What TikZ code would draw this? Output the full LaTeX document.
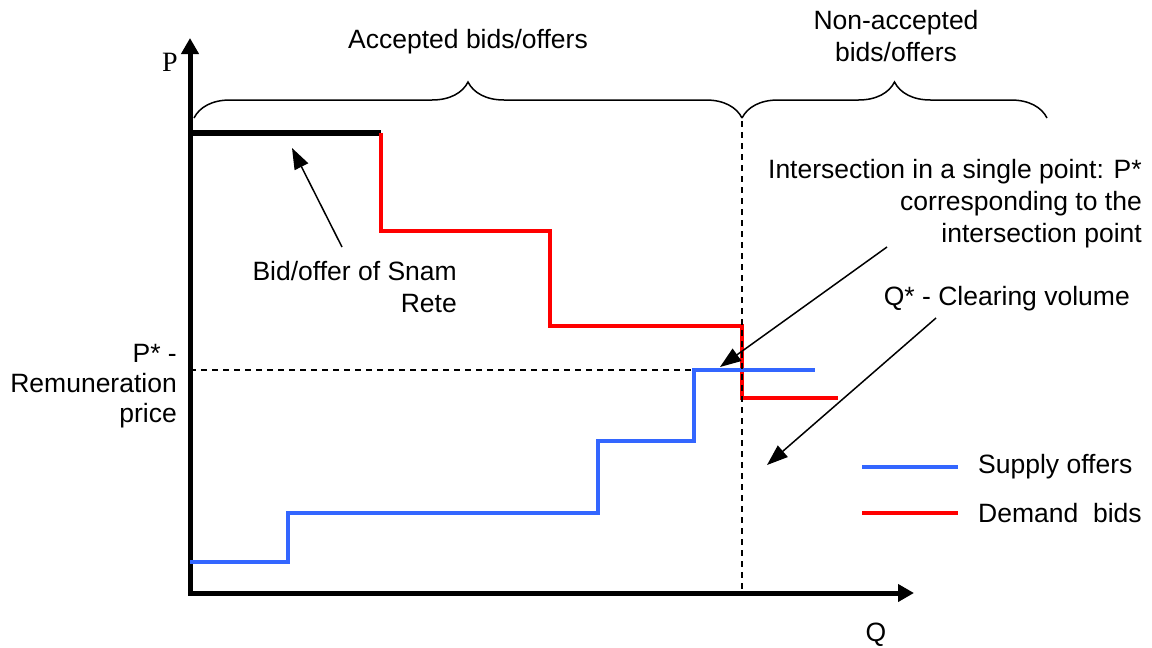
\documentclass[tikz,border=0pt]{standalone}
\usepackage{fontspec}
\setmainfont{Liberation Sans}
\newfontfamily\serifP{Liberation Serif}
\usetikzlibrary{arrows.meta,decorations.pathreplacing}
\tikzset{
  lbl/.style={inner sep=0pt, font=\fontsize{26.5}{32}\selectfont},
  axis/.style={line width=5pt, line join=miter, {Triangle[length=16pt,width=17pt]}-{Triangle[length=16pt,width=17pt]}},
  demand/.style={line width=4pt, color=red, line join=miter},
  supply/.style={line width=4pt, color=supplyblue, line join=miter},
  snam/.style={line width=6pt, color=black},
  guide/.style={line width=1.3pt, dash pattern=on 6pt off 5pt},
  pointer/.style={line width=1.5pt, -{Triangle[length=21pt,width=15pt]}},
  bracestyle/.style={line width=1.5pt, decorate, decoration={brace, amplitude=36pt, aspect=0.5}},
}
\definecolor{supplyblue}{RGB}{51,102,255}
\begin{document}
\begin{tikzpicture}[x=1pt,y=-1pt]
\useasboundingbox (0,0) rectangle (1152,648);
% axes
\coordinate (O) at (190,593);
\coordinate (Ytip) at (190,38);
\coordinate (Xtip) at (914,593);
\draw[axis] (Ytip) -- (O) -- (Xtip);
\node[lbl, font=\fontsize{28}{32}\serifP] (P) at (170,62) {P};
\node[lbl] (Q) at (876,635) {Q};
% snam bid
\coordinate (s0) at (190,133);
\coordinate (s1) at (381,133);
\draw[snam] (s0) -- (s1);
% demand
\coordinate (d1) at (381,231);
\coordinate (d2) at (550,231);
\coordinate (d3) at (550,326);
\coordinate (d4) at (742,326);
\coordinate (d5) at (742,398);
\coordinate (d6) at (838,398);
\draw[demand] (s1) -- (d1) -- (d2) -- (d3) -- (d4) -- (d5) -- (d6);
% supply
\coordinate (u0) at (190,562);
\coordinate (u1) at (288,562);
\coordinate (u2) at (288,513);
\coordinate (u3) at (598,513);
\coordinate (u4) at (598,441);
\coordinate (u5) at (694,441);
\coordinate (u6) at (694,370);
\coordinate (u7) at (815,370);
\draw[supply] (u0) -- (u1) -- (u2) -- (u3) -- (u4) -- (u5) -- (u6) -- (u7);
% guides
\coordinate (pstar) at (190,370);
\draw[guide] (pstar) -- (u6);
\coordinate (qtop) at (742,121);
\coordinate (qbot) at (742,593);
\draw[guide] (qtop) -- (qbot);
% braces
\coordinate (b1a) at (194,118);
\coordinate (b1b) at (742,118);
\coordinate (b2a) at (742,118);
\coordinate (b2b) at (1047,118);
\draw[bracestyle] (b1a) -- (b1b);
\draw[bracestyle] (b2a) -- (b2b);
\node[lbl] (acc) at (468,42) {Accepted bids/offers};
\node[lbl, align=center] (nacc) at (896,36) {Non-accepted\\bids/offers};
% labels
\node[lbl, align=right, anchor=east] (snamlbl) at (457,287) {Bid/offer of Snam\\Rete};
\coordinate (snamtip) at (292,148);
\coordinate (snamstart) at (342,247);
\draw[pointer] (snamstart) -- (snamtip);
\node[lbl, align=right, anchor=east] (interlbl) at (1142,204) {Intersection in a single point: P*\\corresponding to the\\intersection point};
\coordinate (interstart) at (887,247);
\coordinate (intertip) at (720,367);
\draw[pointer] (interstart) -- (intertip);
\node[lbl, anchor=east] (qstarlbl) at (1130,299) {Q* - Clearing volume};
\coordinate (qstart) at (936,318);
\coordinate (qtip) at (767,465);
\draw[pointer] (qstart) -- (qtip);
\node[lbl, align=right, anchor=east, font=\fontsize{26.5}{30}\selectfont] (pstarlbl) at (177,386) {P* -\\Remuneration\\price};
% legend
\coordinate (l1a) at (862,467);
\coordinate (l1b) at (958,467);
\draw[supply] (l1a) -- (l1b);
\node[lbl, anchor=west] (supplylbl) at (978,467) {Supply offers};
\coordinate (l2a) at (862,513);
\coordinate (l2b) at (958,513);
\draw[demand] (l2a) -- (l2b);
\node[lbl, anchor=west] (demandlbl) at (978,513) {Demand\ \ bids};
\end{tikzpicture}
\end{document}
